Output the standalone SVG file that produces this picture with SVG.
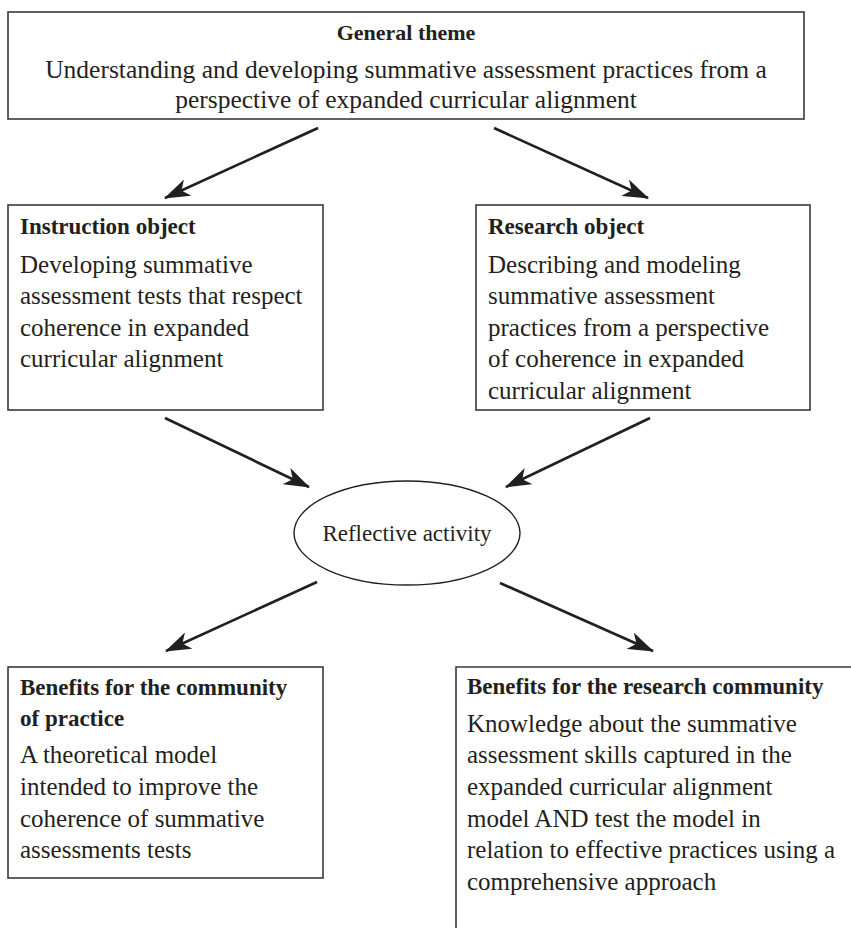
<svg xmlns="http://www.w3.org/2000/svg" width="851" height="928" viewBox="0 0 851 928">
<style>
.box{fill:#fff;stroke:#3a3a3a;stroke-width:1.6}
.t{font-family:"Liberation Serif","Times New Roman",serif;fill:#231f20}
.h{font-weight:bold;font-size:23px}
.b{font-size:25px}
.c{text-anchor:middle}
.con{stroke:#231f20;stroke-width:2.7;fill:none}
</style>
<defs>
<marker id="ah" markerUnits="userSpaceOnUse" markerWidth="26" markerHeight="18" viewBox="0 0 26 18" refX="25" refY="9" orient="auto">
<path d="M0,0 L26,9 L0,18 L7,9 Z" fill="#231f20"/>
</marker>
</defs>
<rect width="851" height="928" fill="#fff"/>
<g id="general-theme">
<rect class="box" x="8" y="12" width="796" height="107"/>
<text class="t c" x="406" y="40" font-size="22" font-weight="bold">General theme</text>
<text class="t c" x="406" y="78" font-size="25.5">Understanding and developing summative assessment practices from a</text>
<text class="t c" x="406" y="108" font-size="25.5">perspective of expanded curricular alignment</text>
</g>
<g id="instruction-object">
<rect class="box" x="8" y="205" width="315" height="205"/>
<text class="t h" x="20" y="234">Instruction object</text>
<text class="t b" x="20" y="273">Developing summative</text>
<text class="t b" x="20" y="304">assessment tests that respect</text>
<text class="t b" x="20" y="336">coherence in expanded</text>
<text class="t b" x="20" y="367">curricular alignment</text>
</g>
<g id="research-object">
<rect class="box" x="476" y="205" width="334" height="205"/>
<text class="t h" x="488" y="234">Research object</text>
<text class="t b" x="488" y="273">Describing and modeling</text>
<text class="t b" x="488" y="304">summative assessment</text>
<text class="t b" x="488" y="336">practices from a perspective</text>
<text class="t b" x="488" y="367">of coherence in expanded</text>
<text class="t b" x="488" y="399">curricular alignment</text>
</g>
<g id="reflective-activity">
<ellipse cx="407" cy="533" rx="113" ry="52" fill="#fff" stroke="#231f20" stroke-width="1.4"/>
<text class="t c" x="407" y="541" font-size="23">Reflective activity</text>
</g>
<g id="community-of-practice">
<rect class="box" x="8" y="667" width="315" height="211"/>
<text class="t h" x="20" y="695">Benefits for the community</text>
<text class="t h" x="20" y="726">of practice</text>
<text class="t b" x="20" y="763">A theoretical model</text>
<text class="t b" x="20" y="795">intended to improve the</text>
<text class="t b" x="20" y="827">coherence of summative</text>
<text class="t b" x="20" y="858">assessments tests</text>
</g>
<g id="research-community">
<path class="box" d="M851,667 H456 V928" fill="none"/>
<text class="t h" x="467" y="694">Benefits for the research community</text>
<text class="t b" x="467" y="732">Knowledge about the summative</text>
<text class="t b" x="467" y="763">assessment skills captured in the</text>
<text class="t b" x="467" y="795">expanded curricular alignment</text>
<text class="t b" x="467" y="827">model AND test the model in</text>
<text class="t b" x="467" y="858">relation to effective practices using a</text>
<text class="t b" x="467" y="890">comprehensive approach</text>
</g>
<g id="connectors">
<line class="con" x1="318" y1="128" x2="165" y2="198" marker-end="url(#ah)"/>
<line class="con" x1="494" y1="128" x2="648" y2="198" marker-end="url(#ah)"/>
<line class="con" x1="165" y1="418" x2="309" y2="487" marker-end="url(#ah)"/>
<line class="con" x1="650" y1="418" x2="506" y2="487" marker-end="url(#ah)"/>
<line class="con" x1="317" y1="582" x2="166" y2="651" marker-end="url(#ah)"/>
<line class="con" x1="500" y1="583" x2="653" y2="651" marker-end="url(#ah)"/>
</g>
</svg>
